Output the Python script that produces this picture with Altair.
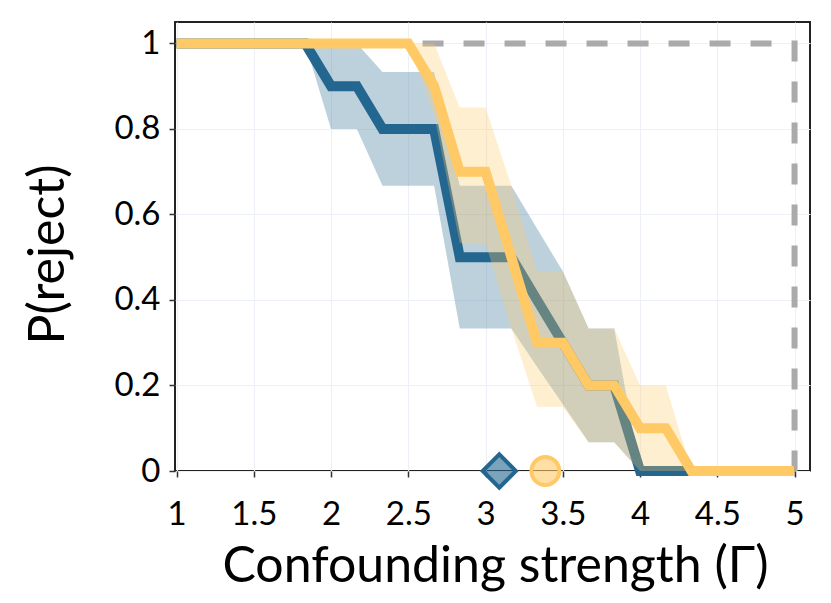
import altair as alt
import pandas as pd

# Confounding strength grid
gamma = [1.0, 1.167, 1.333, 1.5, 1.667, 1.833, 2.0, 2.167, 2.333, 2.5, 2.667, 2.833,
         3.0, 3.167, 3.333, 3.5, 3.667, 3.833, 4.0, 4.167, 4.333, 4.5, 4.667, 4.833, 5.0]
# blue series (rejection rate, lower / upper band)
blue = [1, 1, 1, 1, 1, 1, 0.9, 0.9, 0.8, 0.8, 0.8, 0.5, 0.5, 0.5, 0.4, 0.3, 0.2, 0.2,
        0, 0, 0, 0, 0, 0, 0]
blue_lo = [1, 1, 1, 1, 1, 1, 0.8, 0.8, 0.667, 0.667, 0.667, 0.333, 0.333, 0.333, 0.244,
           0.156, 0.067, 0.067, 0, 0, 0, 0, 0, 0, 0]
blue_hi = [1, 1, 1, 1, 1, 1, 1, 1, 0.933, 0.933, 0.933, 0.667, 0.667, 0.667, 0.567, 0.467,
           0.333, 0.333, 0, 0, 0, 0, 0, 0, 0]
# orange series
orange = [1, 1, 1, 1, 1, 1, 1, 1, 1, 1, 0.9, 0.7, 0.7, 0.5, 0.3, 0.3, 0.2, 0.2, 0.1, 0.1,
          0, 0, 0, 0, 0]
orange_lo = [1, 1, 1, 1, 1, 1, 1, 1, 1, 1, 0.833, 0.533, 0.533, 0.333, 0.15, 0.15, 0.067,
             0.067, 0, 0, 0, 0, 0, 0, 0]
orange_hi = [1, 1, 1, 1, 1, 1, 1, 1, 1, 1, 1, 0.85, 0.85, 0.667, 0.467, 0.467, 0.333, 0.333,
             0.2, 0.2, 0, 0, 0, 0, 0]
# oracle (dashed) step
oracle_x = [1, 5, 5]
oracle_y = [1, 1, 0]
# estimated thresholds (markers)
marker_x = [3.089, 3.387]

x_ticks = [1, 1.5, 2, 2.5, 3, 3.5, 4, 4.5, 5]
y_ticks = [0, 0.2, 0.4, 0.6, 0.8, 1]

BLUE = "#23668f"
ORANGE = "#ffc966"

df = pd.DataFrame({"g": gamma, "b": blue, "blo": blue_lo, "bhi": blue_hi,
                   "o": orange, "olo": orange_lo, "ohi": orange_hi})
dfo = pd.DataFrame({"x": oracle_x, "y": oracle_y, "i": list(range(len(oracle_x)))})
dfb = pd.DataFrame({"x": [marker_x[0]], "y": [0]})
dfc = pd.DataFrame({"x": [marker_x[1]], "y": [0]})

xs = alt.Scale(domain=[0.99, 5.1], nice=False, zero=False)
ys = alt.Scale(domain=[0, 1.05], nice=False)

xax = alt.Axis(values=x_ticks, format="~g", title="Confounding strength (Γ)",
               titleX=320, titleY=110, titleBaseline="alphabetic", titleAlign="center",
               labelBaseline="alphabetic", labelPadding=47, tickSize=6,
               labelAngle=0, labelFlush=False, labelOverlap=False)
yax = alt.Axis(values=y_ticks, format="~g", title="P(reject)",
               titleX=-112, titleY=232, titleBaseline="alphabetic", titleAlign="center",
               titleAngle=270, labelPadding=9, tickSize=6, labelFlush=False,
               labelOverlap=False)

base = alt.Chart(df)

oracle = alt.Chart(dfo).mark_line(color="#aaaaaa", strokeWidth=6, strokeDash=[21, 20]).encode(
    x=alt.X("x:Q", scale=xs, axis=xax),
    y=alt.Y("y:Q", scale=ys, axis=yax),
    order="i:O")

band_b = base.mark_area(color=BLUE, opacity=0.3).encode(
    x=alt.X("g:Q", scale=xs), y=alt.Y("blo:Q", scale=ys), y2="bhi:Q")
line_b = base.mark_line(color=BLUE, strokeWidth=10, strokeJoin="miter").encode(
    x=alt.X("g:Q", scale=xs), y=alt.Y("b:Q", scale=ys))
band_o = base.mark_area(color=ORANGE, opacity=0.3).encode(
    x=alt.X("g:Q", scale=xs), y=alt.Y("olo:Q", scale=ys), y2="ohi:Q")
line_o = base.mark_line(color=ORANGE, strokeWidth=10, strokeJoin="miter").encode(
    x=alt.X("g:Q", scale=xs), y=alt.Y("o:Q", scale=ys))

pt_b = alt.Chart(dfb).mark_point(shape="diamond", size=1100, filled=True, fill=BLUE,
                                 fillOpacity=0.6, stroke=BLUE, strokeWidth=4,
                                 opacity=1).encode(
    x=alt.X("x:Q", scale=xs), y=alt.Y("y:Q", scale=ys))
pt_c = alt.Chart(dfc).mark_point(shape="circle", size=780, filled=True, fill=ORANGE,
                                 fillOpacity=0.6, stroke=ORANGE, strokeWidth=4,
                                 opacity=1).encode(
    x=alt.X("x:Q", scale=xs), y=alt.Y("y:Q", scale=ys))

chart = alt.layer(oracle, band_b, line_b, band_o, line_o, pt_b, pt_c).properties(
    width=635, height=449,
    padding={"left": 167, "top": 14, "right": 13, "bottom": 124},
    autosize=alt.AutoSizeParams(type="none"),
).configure(
    background="white"
).configure_view(
    stroke="#222222", strokeWidth=2
).configure_axis(
    domain=False, grid=True, gridColor="#eef0f7", gridWidth=1.2,
    tickColor="#333333", tickWidth=1.5,
    labelFont="Lato", labelFontSize=33, labelColor="#000000",
    titleFont="Lato", titleFontSize=50, titleColor="#000000", titleFontWeight="normal",
)

chart.save("out.html", embed_options={"renderer": "svg", "actions": False})
